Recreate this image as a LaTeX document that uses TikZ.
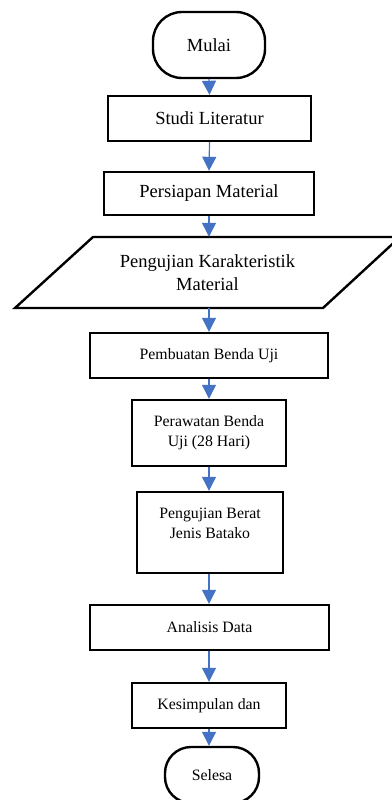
\documentclass[tikz,border=0pt]{standalone}
\usepackage{fontspec}
\setmainfont{Liberation Serif}
\usepackage{tikz}
\usetikzlibrary{arrows.meta}

\definecolor{arrowblue}{HTML}{4472C4}
\newcommand{\bigtxt}{\fontsize{18.5}{23}\selectfont}
\newcommand{\smalltxt}{\fontsize{15.8}{20}\selectfont}

\tikzset{
  proc/.style={draw, line width=2.4pt, inner sep=0pt, align=center},
  term/.style={proc, rounded corners=29pt},
  flow/.style={arrowblue, line width=1.2pt, -{Triangle[width=14pt,length=14pt]}}
}

\begin{document}
\begin{tikzpicture}[x=1pt, y=-1pt]
        \useasboundingbox (0,0) rectangle (391,800);

        \node[term, minimum width=112, minimum height=66, font=\bigtxt] (mulai) at (209,45) {Mulai};
        \node[proc, minimum width=203, minimum height=45, font=\bigtxt] (studi) at (209.5,118.5) {Studi Literatur};
        \node[proc, minimum width=210, minimum height=43, font=\bigtxt] (persiapan) at (209,193.5) {Persiapan Material};

        % jajaran genjang
        \draw[line width=2.4pt] (93,237) -- (400,237) -- (323,308) -- (15,308) -- cycle;
        \node[inner sep=0pt, minimum height=71, align=center, font=\bigtxt] (uji) at (207.5,272.5) {Pengujian Karakteristik\\Material};

        \node[proc, minimum width=238, minimum height=45, font=\smalltxt] (pembuatan) at (209,355.5) {Pembuatan Benda Uji};
        \node[proc, minimum width=154, minimum height=66, font=\smalltxt] (perawatan) at (209,433) {Perawatan Benda\\Uji (28 Hari)};
        \node[proc, minimum width=146, minimum height=81] (berat) at (210,532.5) {};
        \node[align=center, inner sep=0pt, font=\smalltxt] (beratTeks) at (210,523) {Pengujian Berat\\Jenis Batako};
        \node[proc, minimum width=239, minimum height=45, font=\smalltxt] (analisis) at (209.5,627.5) {Analisis Data};
        \node[proc, minimum width=154, minimum height=45, font=\smalltxt] (kesimpulan) at (209,705.5) {Kesimpulan dan};
        \node[term, rounded corners=26pt, minimum width=94, minimum height=56, font=\smalltxt] (selesa) at (212,775) {Selesa};

        \draw[flow] (mulai.south) -- (studi.north);
        \draw[flow] (studi.south) -- (persiapan.north);
        \draw[flow] (persiapan.south) -- (persiapan.south |- uji.north);
        \draw[flow] (persiapan.south |- uji.south) -- (pembuatan.north);
        \draw[flow] (pembuatan.south) -- (perawatan.north);
        \draw[flow] (perawatan.south) -- (perawatan.south |- berat.north);
        \draw[flow] (perawatan.south |- berat.south) -- (perawatan.south |- analisis.north);
        \draw[flow] (perawatan.south |- analisis.south) -- (kesimpulan.north);
        \draw[flow] (kesimpulan.south) -- (kesimpulan.south |- selesa.north);
\end{tikzpicture}
\end{document}
